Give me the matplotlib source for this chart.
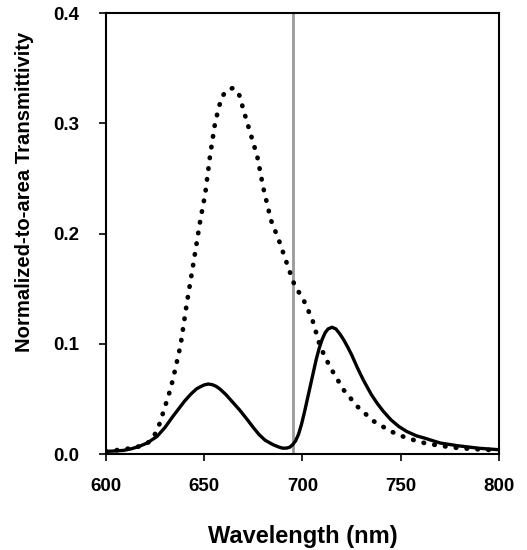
import numpy as np
import matplotlib
matplotlib.use("Agg")
import matplotlib.pyplot as plt

plt.rcParams['font.family'] = ['Liberation Sans', 'DejaVu Sans']
plt.rcParams['font.weight'] = 'bold'

# dotted curve
wl_dot = [600, 610, 615, 619, 622, 624, 627, 629, 632, 634, 636, 638, 641, 644.5,
          648, 650.5, 653, 655.5, 657.5, 659, 661, 662.5, 664.5, 666.5, 668, 670,
          672, 674, 677, 680, 684, 688, 693, 696, 700.5, 705, 709, 714, 721, 728,
          736, 745, 753, 762, 770, 779, 790, 800]
tr_dot = [0.0024, 0.0045, 0.006, 0.008, 0.011, 0.0145, 0.026, 0.037, 0.054,
          0.067, 0.083, 0.099, 0.135, 0.173, 0.212, 0.236, 0.271, 0.300, 0.315,
          0.324, 0.329, 0.331, 0.332, 0.330, 0.325, 0.312, 0.300, 0.288, 0.270,
          0.242, 0.212, 0.194, 0.168, 0.153, 0.140, 0.122, 0.0975, 0.079, 0.058,
          0.043, 0.030, 0.0205, 0.0145, 0.010, 0.0075, 0.0055, 0.0042, 0.0033]

# solid curve
wl_sol = [600, 605, 609, 613, 617, 621, 626, 630, 634, 637, 640, 643, 646, 648,
          650, 652, 654, 656, 658, 661, 665, 668, 672, 675, 678, 681, 685, 688,
          690, 692, 693.5, 695, 696.5, 698, 699.5, 701, 702.5, 704, 705.5, 707,
          708.5, 710, 711.5, 713, 715, 717, 719, 721, 723, 725, 728, 731, 735,
          738, 741, 745, 749, 753, 758, 762, 770, 779, 790, 800]
tr_sol = [0.0024, 0.0028, 0.0033, 0.0048, 0.007, 0.010, 0.016, 0.024, 0.034,
          0.041, 0.048, 0.054, 0.059, 0.061, 0.0627, 0.0635, 0.063, 0.0615,
          0.059, 0.054, 0.046, 0.040, 0.031, 0.024, 0.0175, 0.0125, 0.0085,
          0.0063, 0.0053, 0.0054, 0.0062, 0.0085, 0.012, 0.018, 0.027, 0.038,
          0.050, 0.062, 0.074, 0.086, 0.096, 0.104, 0.110, 0.1135, 0.115,
          0.1135, 0.109, 0.1035, 0.097, 0.090, 0.078, 0.067, 0.054, 0.046,
          0.039, 0.031, 0.025, 0.0205, 0.0165, 0.0145, 0.010, 0.0075, 0.0052,
          0.0039]

cut_wl = 695

fig = plt.figure(figsize=(5.27, 5.5), dpi=100)
ax = fig.add_axes([0.201, 0.1745, 0.746, 0.8015])

ax.axvline(cut_wl, color='#999999', lw=2.0, zorder=1)
ax.plot(wl_dot, tr_dot, color='black', lw=3.4, linestyle=(0, (0.1, 2.2)),
        dash_capstyle='round', zorder=2)
ax.plot(wl_sol, tr_sol, color='black', lw=2.4, zorder=3,
        solid_joinstyle='round', solid_capstyle='round')

ax.set_xlim(600, 800)
ax.set_ylim(0, 0.4)
ax.set_xticks([600, 650, 700, 750, 800])
ax.set_yticks([0.0, 0.1, 0.2, 0.3, 0.4])
ax.yaxis.set_major_formatter(matplotlib.ticker.FormatStrFormatter('%.1f'))
ax.tick_params(direction='out', length=5, width=1.2, labelsize=13.5, pad=12)
ax.tick_params(axis='y', pad=14)
for s in ax.spines.values():
    s.set_linewidth(1.5)

ax.set_xlabel('Wavelength (nm)', fontsize=17, fontweight='bold', labelpad=22)
ax.set_ylabel('Normalized-to-area Transmittivity', fontsize=14.6, fontweight='bold')
ax.yaxis.set_label_coords(-0.183, 0.595)

fig.savefig('out.png', dpi=100)
